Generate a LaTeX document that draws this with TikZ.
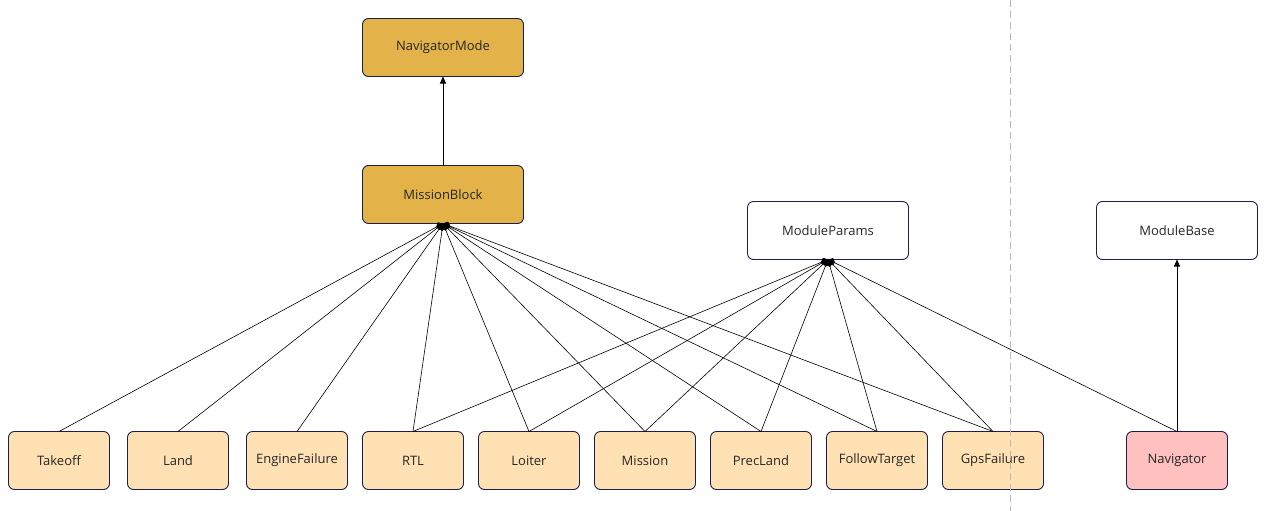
\documentclass[tikz,border=0pt]{standalone}
\usepackage{fontspec}
\setmainfont{Open Sans}
\usetikzlibrary{arrows.meta,positioning}
\definecolor{navborder}{HTML}{1B1F4A}
\definecolor{goldfill}{HTML}{E3B34A}
\definecolor{peachfill}{HTML}{FFE1B3}
\definecolor{rosefill}{HTML}{FFC0C0}
\tikzset{
  classnode/.style={rectangle,rounded corners=6pt,draw=navborder,line width=0.9pt,
    text centered,font=\fontsize{13}{15}\selectfont,inner sep=0pt,outer sep=0pt,
    text=black!85},
  topnode/.style={classnode,minimum width=161pt,minimum height=58pt},
  modenode/.style={topnode,fill=goldfill},
  basenode/.style={topnode,fill=white},
  leafnode/.style={classnode,fill=peachfill,minimum width=101pt,minimum height=58pt},
  navnode/.style={leafnode,fill=rosefill},
  arrow/.style={-{Triangle[length=7pt,width=6pt]},line width=0.9pt},
  compline/.style={{Diamond[length=8pt,width=7pt]}-,line width=0.6pt},
  divider/.style={draw=black!28,dash pattern=on 7pt off 4pt,line width=0.8pt},
}

\begin{document}
\begin{tikzpicture}[x=1pt,y=-1pt]
  \useasboundingbox (0,0) rectangle (1285,511);

  %% ── Upper classes ─────────────────────────────────────────────────────────
  \node[modenode] (navmode) at (443,47.5) {NavigatorMode};
  \node[modenode, below=89pt of navmode] (missionblock) {MissionBlock};
  \node[basenode] (moduleparams) at (828,230.5) {ModuleParams};
  \node[basenode] (modulebase)   at (1177,230.5) {ModuleBase};

  %% ── Navigation modes ──────────────────────────────────────────────────────
  \node[leafnode] (takeoff) at (59,460.5) {Takeoff};
  \node[leafnode, right=18pt of takeoff]      (land)         {Land};
  \node[leafnode, right=18pt of land]         (enginefail)   {EngineFailure};
  \node[leafnode, right=15pt of enginefail]   (rtl)          {RTL};
  \node[leafnode, right=15pt of rtl]          (loiter)       {Loiter};
  \node[leafnode, right=15pt of loiter]       (mission)      {Mission};
  \node[leafnode, right=15pt of mission]      (precland)     {PrecLand};
  \node[leafnode, right=15pt of precland]     (followtarget) {FollowTarget};
  \node[leafnode, right=15pt of followtarget] (gpsfail)      {GpsFailure};
  \node[navnode,  right=83pt of gpsfail]      (navigator)    {Navigator};

  %% ── Divider ───────────────────────────────────────────────────────────────
  \coordinate (divtop) at (1010,0);
  \coordinate (divbot) at (1010,511);
  \draw[divider] (divtop) -- (divbot);

  %% ── Composition into MissionBlock ─────────────────────────────────────────
  \draw[compline] (missionblock.south) -- (takeoff.north);
  \draw[compline] (missionblock.south) -- (land.north);
  \draw[compline] (missionblock.south) -- (enginefail.north);
  \draw[compline] (missionblock.south) -- (rtl.north);
  \draw[compline] (missionblock.south) -- (loiter.north);
  \draw[compline] (missionblock.south) -- (mission.north);
  \draw[compline] (missionblock.south) -- (precland.north);
  \draw[compline] (missionblock.south) -- (followtarget.north);
  \draw[compline] (missionblock.south) -- (gpsfail.north);

  %% ── Composition into ModuleParams ─────────────────────────────────────────
  \draw[compline] (moduleparams.south) -- (rtl.north);
  \draw[compline] (moduleparams.south) -- (loiter.north);
  \draw[compline] (moduleparams.south) -- (mission.north);
  \draw[compline] (moduleparams.south) -- (precland.north);
  \draw[compline] (moduleparams.south) -- (followtarget.north);
  \draw[compline] (moduleparams.south) -- (gpsfail.north);
  \draw[compline] (moduleparams.south) -- (navigator.north);

  %% ── Inheritance ───────────────────────────────────────────────────────────
  \draw[arrow] (missionblock) -- (navmode);
  \draw[arrow] (navigator) -- (modulebase);

\end{tikzpicture}
\end{document}
